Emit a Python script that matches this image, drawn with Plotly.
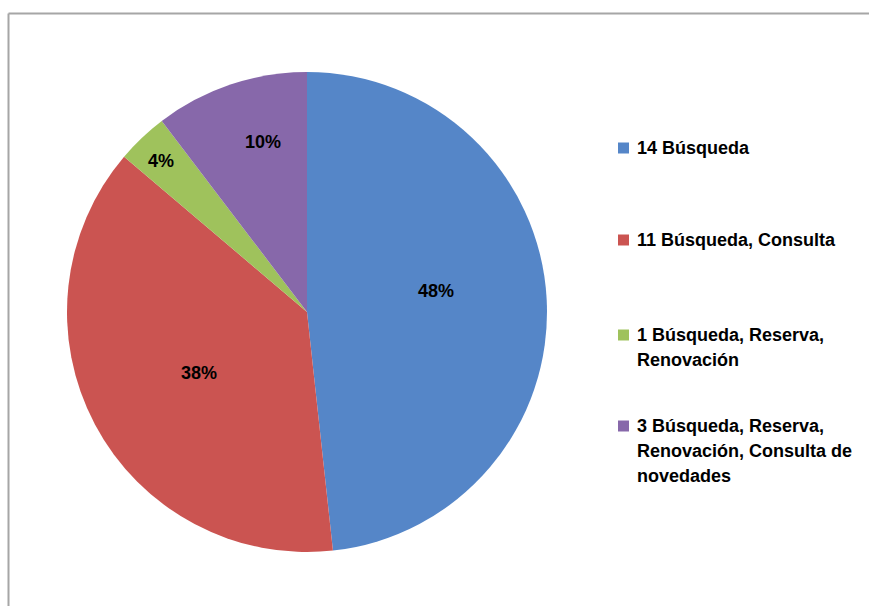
import math
import plotly.graph_objects as go

# Usage of catalogue functions by number of users
counts = [14, 11, 1, 3]
functions = [
    "Búsqueda",
    "Búsqueda, Consulta",
    "Búsqueda, Reserva, Renovación",
    "Búsqueda, Reserva, Renovación, Consulta de novedades",
]
# percentages as printed on the slices
pct_labels = [48, 38, 4, 10]
# legend text, wrapped as it is shown next to the chart
legend_lines = [
    ["14 Búsqueda"],
    ["11 Búsqueda, Consulta"],
    ["1 Búsqueda, Reserva,", "Renovación"],
    ["3 Búsqueda, Reserva,", "Renovación, Consulta de", "novedades"],
]
colors = ["#5586C8", "#CB5451", "#9FC25C", "#8768AA"]

W, H = 869, 606
FONT = "Liberation Sans"
cx, cy, R = 307, 312, 240          # pie centre and radius in pixels


def px(x):
    return x / W


def py(y):
    return 1 - y / H


fig = go.Figure(
    go.Pie(
        values=counts,
        labels=functions,
        marker=dict(colors=colors, line=dict(color="white", width=0)),
        sort=False,
        direction="clockwise",
        rotation=0,
        textinfo="none",
        hoverinfo="label+value+percent",
        showlegend=False,
        domain=dict(x=[px(cx - R), px(cx + R)], y=[py(cy + R), py(cy - R)]),
    )
)

annotations = []
shapes = []

# percentage labels: distance from centre (fraction of radius) and a
# small angular nudge (degrees) off each slice's bisector
label_radius = [0.546, 0.517, 0.875, 0.73]
label_nudge = [-6.0, -1.4, -0.6, 4.0]
total = sum(counts)
start = 0.0
for v, p, rf, dn in zip(counts, pct_labels, label_radius, label_nudge):
    mid = (start + v / 2) / total * 2 * math.pi + math.radians(dn)
    start += v
    lx = cx + rf * R * math.sin(mid)
    ly = cy - rf * R * math.cos(mid)
    annotations.append(dict(
        x=px(lx), y=py(ly), xref="paper", yref="paper",
        text=f"{p}%", showarrow=False,
        font=dict(family=FONT, size=18, color="black", weight="bold"),
        xanchor="center", yanchor="middle",
    ))

# legend: coloured square followed by the wrapped label lines
legend_top = [148, 240, 335, 426]
line_step = 25
sq = 11
for color, lines, y0 in zip(colors, legend_lines, legend_top):
    shapes.append(dict(
        type="rect", xref="paper", yref="paper",
        x0=px(618), x1=px(618 + sq), y0=py(y0 - sq / 2), y1=py(y0 + sq / 2),
        fillcolor=color, line=dict(width=0),
    ))
    for i, line in enumerate(lines):
        annotations.append(dict(
            x=px(635), y=py(y0 + i * line_step), xref="paper", yref="paper",
            text=line, showarrow=False, xanchor="left", yanchor="middle",
            font=dict(family=FONT, size=18, color="black", weight="bold"),
        ))

# chart frame (top and left edges are inside the page)
frame = dict(color="#A6A6A6", width=2)
shapes.append(dict(type="line", xref="paper", yref="paper",
                   x0=px(8.5), x1=1.0, y0=py(13.5), y1=py(13.5), line=frame))
shapes.append(dict(type="line", xref="paper", yref="paper",
                   x0=px(8.5), x1=px(8.5), y0=py(13.5), y1=0.0, line=frame))

fig.update_layout(
    width=W, height=H,
    margin=dict(l=0, r=0, t=0, b=0),
    paper_bgcolor="white",
    plot_bgcolor="white",
    annotations=annotations,
    shapes=shapes,
)

fig.write_html("out.html")
